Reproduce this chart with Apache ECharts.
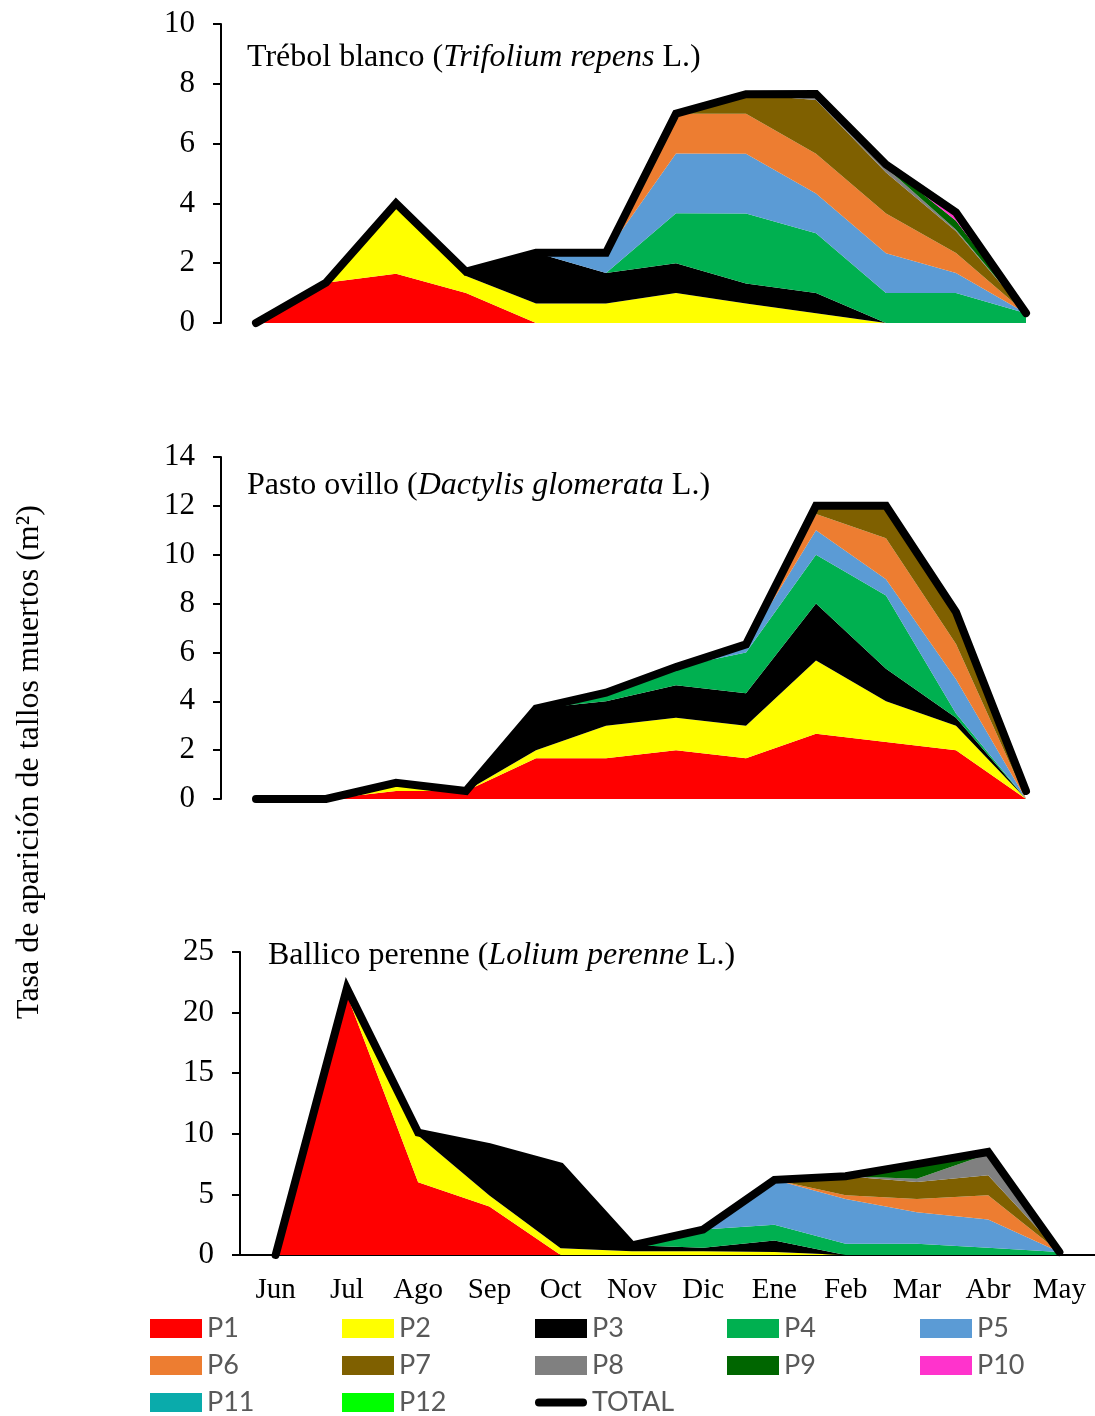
<!DOCTYPE html>
<html>
<head>
<meta charset="utf-8">
<script src="https://cdn.jsdelivr.net/npm/echarts@6/dist/echarts.min.js"></script>
<style>
  html, body { margin: 0; background: #fff; }
  #chart { width: 1095px; height: 1416px; }
</style>
</head>
<body>
<div id="chart"></div>
<script>
const months = ['Jun', 'Jul', 'Ago', 'Sep', 'Oct', 'Nov', 'Dic', 'Ene', 'Feb', 'Mar', 'Abr', 'May'];

// Trébol blanco
const trebolP1 = [0, 1.35, 1.65, 1.0, 0, 0, 0, 0, 0, 0, 0, 0];
const trebolP2 = [0, 0, 2.35, 0.57, 0.65, 0.65, 1.0, 0.65, 0.33, 0, 0, 0];
const trebolP3 = [0, 0, 0, 0.15, 1.7, 1.02, 1.0, 0.67, 0.67, 0, 0, 0];
const trebolP4 = [0, 0, 0, 0, 0, 0, 1.67, 2.34, 2.0, 1.0, 1.0, 0.33];
const trebolP5 = [0, 0, 0, 0, 0, 0.68, 2.0, 2.0, 1.33, 1.33, 0.67, 0];
const trebolP6 = [0, 0, 0, 0, 0, 0, 1.33, 1.34, 1.33, 1.33, 0.67, 0];
const trebolP7 = [0, 0, 0, 0, 0, 0, 0, 0.65, 1.8, 1.37, 0.73, 0];
const trebolP8 = [0, 0, 0, 0, 0, 0, 0, 0, 0.2, 0.17, 0.05, 0];
const trebolP9 = [0, 0, 0, 0, 0, 0, 0, 0, 0, 0.1, 0.3, 0];
const trebolP10 = [0, 0, 0, 0, 0, 0, 0, 0, 0, 0, 0.28, 0];
const trebolP11 = [0, 0, 0, 0, 0, 0, 0, 0, 0, 0, 0, 0];
const trebolP12 = [0, 0, 0, 0, 0, 0, 0, 0, 0, 0, 0, 0];
const trebolTotal = [0, 1.35, 4.0, 1.72, 2.35, 2.35, 7.0, 7.65, 7.66, 5.3, 3.7, 0.33];

// Pasto ovillo
const pastoP1 = [0, 0, 0.33, 0.33, 1.67, 1.67, 2.0, 1.67, 2.67, 2.33, 2.0, 0];
const pastoP2 = [0, 0, 0.33, 0, 0.33, 1.33, 1.33, 1.33, 3.0, 1.67, 1.0, 0];
const pastoP3 = [0, 0, 0, 0, 1.7, 1.0, 1.33, 1.33, 2.33, 1.33, 0.33, 0];
const pastoP4 = [0, 0, 0, 0, 0, 0.35, 0.74, 1.67, 2.0, 3.0, 0.17, 0];
const pastoP5 = [0, 0, 0, 0, 0, 0, 0, 0.33, 1.0, 0.67, 1.4, 0];
const pastoP6 = [0, 0, 0, 0, 0, 0, 0, 0, 0.67, 1.67, 1.45, 0];
const pastoP7 = [0, 0, 0, 0, 0, 0, 0, 0, 0.33, 1.33, 1.3, 0];
const pastoTotal = [0, 0, 0.66, 0.33, 3.7, 4.35, 5.4, 6.33, 12.0, 12.0, 7.65, 0.33];

// Ballico perenne
const ballicoP1 = [0, 21.5, 6.0, 4.0, 0, 0, 0, 0, 0, 0, 0, 0];
const ballicoP2 = [0, 0.5, 3.85, 0.9, 0.55, 0.3, 0.3, 0.25, 0, 0, 0, 0];
const ballicoP3 = [0, 0, 0.25, 4.0, 6.75, 0.5, 0.3, 0.95, 0, 0, 0, 0];
const ballicoP4 = [0, 0, 0, 0, 0, 0, 1.5, 1.3, 0.92, 0.92, 0.6, 0.25];
const ballicoP5 = [0, 0, 0, 0, 0, 0, 0, 3.7, 3.7, 2.6, 2.33, 0];
const ballicoP6 = [0, 0, 0, 0, 0, 0, 0, 0, 0.3, 1.1, 2.0, 0];
const ballicoP7 = [0, 0, 0, 0, 0, 0, 0, 0, 1.58, 1.4, 1.65, 0];
const ballicoP8 = [0, 0, 0, 0, 0, 0, 0, 0, 0, 0.28, 1.75, 0];
const ballicoP9 = [0, 0, 0, 0, 0, 0, 0, 0, 0, 1.2, 0.17, 0];
const ballicoTotal = [0, 22, 10.1, 8.9, 7.3, 0.8, 2.1, 6.2, 6.5, 7.5, 8.5, 0.25];

const colors = {
  P1: '#FF0000', P2: '#FFFF00', P3: '#000000', P4: '#00B050', P5: '#5B9BD5', P6: '#ED7D31',
  P7: '#7F6000', P8: '#808080', P9: '#006600', P10: '#FF33CC', P11: '#0AABAB', P12: '#00FF00'
};

const serif = 'Liberation Serif';

function areaSeries(name, data, idx) {
  return {
    name: name, type: 'line', data: data, stack: 'g' + idx,
    xAxisIndex: idx, yAxisIndex: idx,
    symbol: 'none', color: colors[name],
    lineStyle: { width: 0 },
    areaStyle: { color: colors[name], opacity: 1 },
    emphasis: { disabled: true }, silent: true
  };
}

function totalSeries(data, idx) {
  return {
    name: 'TOTAL', type: 'line', data: data,
    xAxisIndex: idx, yAxisIndex: idx,
    symbol: 'none', color: '#000', clip: false, z: 10,
    lineStyle: { width: 8, color: '#000', cap: 'round', join: 'miter' },
    emphasis: { disabled: true }, silent: true
  };
}

function yAxis(idx, max, interval) {
  return {
    type: 'value', gridIndex: idx, min: 0, max: max, interval: interval,
    splitLine: { show: false },
    axisLine: { show: true, lineStyle: { color: '#000', width: 2 } },
    axisTick: { show: true, length: 8, lineStyle: { color: '#000', width: 2 } },
    axisLabel: { fontFamily: serif, fontSize: 31, color: '#000', margin: 26 }
  };
}

const titleRich = {
  n: { fontFamily: serif, fontSize: 32, color: '#000', fontWeight: 'normal', lineHeight: 32 },
  i: { fontFamily: serif, fontSize: 32, color: '#000', fontWeight: 'normal', fontStyle: 'italic', lineHeight: 32 }
};

function title(text, left, top) {
  return { text: text, left: left, top: top, padding: 0, textStyle: { fontWeight: 'normal', rich: titleRich } };
}

const legendText = { fontFamily: 'Lato', fontSize: 27, color: '#595959' };

function colLegend(left, names) {
  return {
    left: left, top: 1315, height: 150, orient: 'vertical', padding: 0,
    itemWidth: 52, itemHeight: 19, itemGap: 10, icon: 'rect',
    itemStyle: { borderWidth: 0 }, selectedMode: false,
    textStyle: legendText, data: names
  };
}

let chartDom = document.getElementById('chart');
let myChart = echarts.init(chartDom);

let series = [
  areaSeries('P1', trebolP1, 0), areaSeries('P2', trebolP2, 0), areaSeries('P3', trebolP3, 0),
  areaSeries('P4', trebolP4, 0), areaSeries('P5', trebolP5, 0), areaSeries('P6', trebolP6, 0),
  areaSeries('P7', trebolP7, 0), areaSeries('P8', trebolP8, 0), areaSeries('P9', trebolP9, 0),
  areaSeries('P10', trebolP10, 0), areaSeries('P11', trebolP11, 0), areaSeries('P12', trebolP12, 0),
  totalSeries(trebolTotal, 0),

  areaSeries('P1', pastoP1, 1), areaSeries('P2', pastoP2, 1), areaSeries('P3', pastoP3, 1),
  areaSeries('P4', pastoP4, 1), areaSeries('P5', pastoP5, 1), areaSeries('P6', pastoP6, 1),
  areaSeries('P7', pastoP7, 1),
  totalSeries(pastoTotal, 1),

  areaSeries('P1', ballicoP1, 2), areaSeries('P2', ballicoP2, 2), areaSeries('P3', ballicoP3, 2),
  areaSeries('P4', ballicoP4, 2), areaSeries('P5', ballicoP5, 2), areaSeries('P6', ballicoP6, 2),
  areaSeries('P7', ballicoP7, 2), areaSeries('P8', ballicoP8, 2), areaSeries('P9', ballicoP9, 2),
  totalSeries(ballicoTotal, 2)
];

var option = {
  animation: false,
  backgroundColor: '#fff',
  title: [
    title('{n|Trébol blanco (}{i|Trifolium repens}{n| L.)}', 247, 42),
    title('{n|Pasto ovillo (}{i|Dactylis glomerata}{n| L.)}', 247, 470),
    title('{n|Ballico perenne (}{i|Lolium perenne}{n| L.)}', 268, 940)
  ],
  grid: [
    { left: 221, top: 24, width: 840, height: 299 },
    { left: 221, top: 457, width: 840, height: 342 },
    { left: 240, top: 952, width: 860, height: 303 }
  ],
  xAxis: [
    { type: 'category', gridIndex: 0, data: months, show: false },
    { type: 'category', gridIndex: 1, data: months, show: false },
    {
      type: 'category', gridIndex: 2, data: months,
      axisLine: { lineStyle: { color: '#000', width: 2 } },
      axisTick: { length: 8, lineStyle: { color: '#000', width: 2 } },
      axisLabel: { interval: 0, fontFamily: serif, fontSize: 29, color: '#000', margin: 21 }
    }
  ],
  yAxis: [yAxis(0, 10, 2), yAxis(1, 14, 2), yAxis(2, 25, 5)],
  legend: [
    colLegend(150, ['P1', 'P6', 'P11']),
    colLegend(342, ['P2', 'P7', 'P12']),
    colLegend(535, ['P3', 'P8']),
    colLegend(727, ['P4', 'P9']),
    colLegend(920, ['P5', 'P10']),
    {
      left: 535, top: 1389, height: 60, padding: 0, itemWidth: 52, itemHeight: 8,
      icon: 'path://M4,0 H48 A4,4 0 0 1 48,8 H4 A4,4 0 0 1 4,0 Z',
      itemStyle: { color: '#000', borderWidth: 0 }, selectedMode: false,
      textStyle: legendText, data: ['TOTAL']
    }
  ],
  graphic: [{
    type: 'text', x: 30, y: 762, rotation: Math.PI / 2,
    style: {
      text: 'Tasa de aparición de tallos muertos (m²)',
      fontFamily: serif, fontSize: 32, fill: '#000',
      align: 'center', verticalAlign: 'middle'
    }
  }],
  series: series
};

myChart.setOption(option);
</script>
</body>
</html>
